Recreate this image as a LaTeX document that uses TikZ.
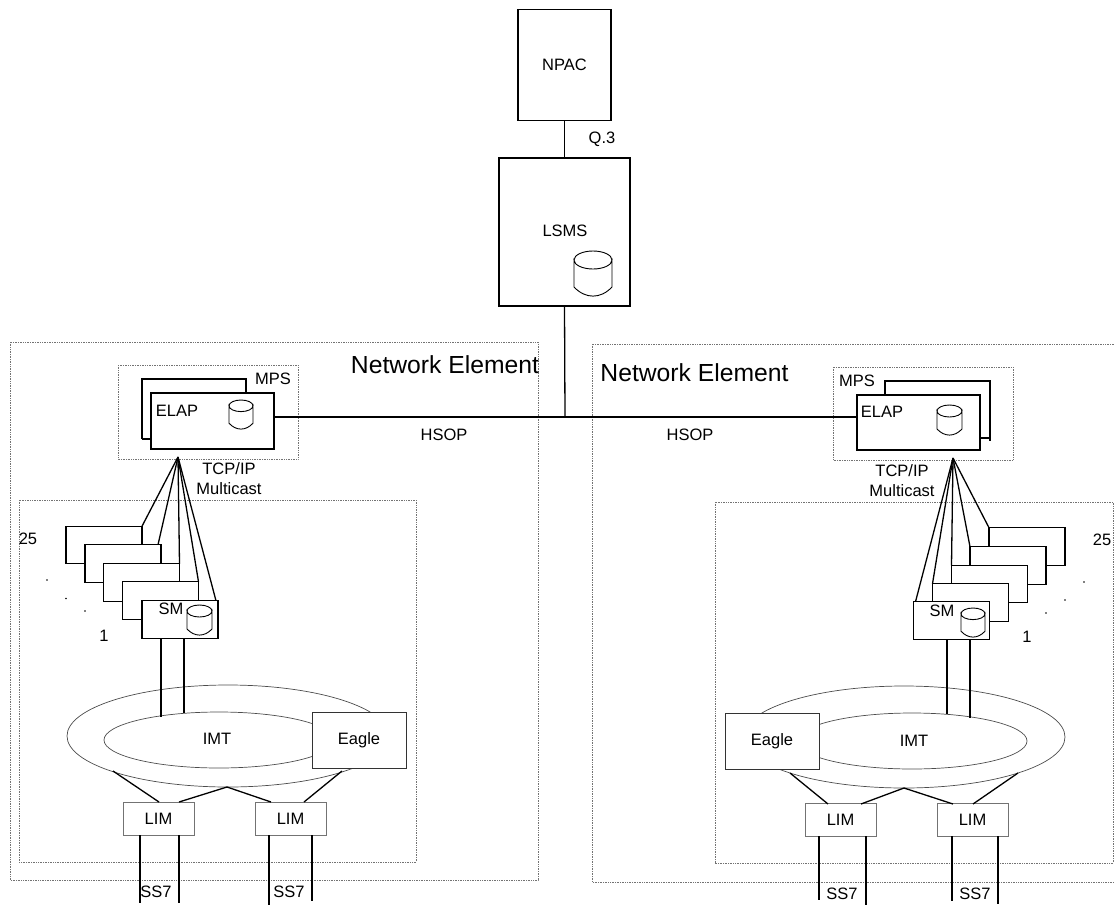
\documentclass[tikz,border=0pt]{standalone}
\usepackage{fontspec}
\setmainfont{Liberation Sans}
\usetikzlibrary{positioning}
\tikzset{
  box/.style={draw,line width=1.3pt,fill=white,inner sep=0pt,outer sep=0pt},
  limbox/.style={draw=black!55,line width=.9pt,fill=white,inner sep=0pt,outer sep=0pt,minimum width=71pt,minimum height=33pt},
  smbox/.style={box,minimum width=76pt,minimum height=37.5pt},
  eaglebox/.style={draw=black!80,line width=.9pt,fill=white,inner sep=0pt,outer sep=0pt,minimum width=94pt,minimum height=56pt},
  dotbox/.style={black!55,densely dotted,line width=.7pt},
  ring/.style={draw=black!70,line width=.7pt},
  wire/.style={line width=1.3pt},
  lbl/.style={inner sep=0pt,font=\fontsize{16.5}{18}\selectfont},
  bigl/.style={inner sep=0pt,font=\fontsize{24.7}{28}\selectfont}
}
% database can: left, top, width, height
\newcommand{\dbcan}[4]{%
  \draw[line width=.9pt,fill=white] (#1,#2+.2*#4) arc[start angle=180,end angle=0,x radius=.5*#3,y radius=.2*#4]
    -- (#1+#3,#2+.8*#4) .. controls (#1+.7*#3,#2+1.07*#4) and (#1+.3*#3,#2+1.07*#4) .. (#1,#2+.8*#4) -- cycle;
  \draw[line width=.9pt] (#1,#2+.2*#4) arc[start angle=180,end angle=360,x radius=.5*#3,y radius=.2*#4];}
\begin{document}
\begin{tikzpicture}[x=1pt,y=-1pt]
\useasboundingbox (0,0) rectangle (1114,905);
% dotted frames
\draw[dotbox] (10,342) rectangle (538,880);
\draw[dotbox] (19,500) rectangle (416,862);
\draw[dotbox] (118,365) rectangle (298,459);
\draw[dotbox] (1114,344) -- (592,344) -- (592,882) -- (1114,882);
\draw[dotbox] (715,502) rectangle (1113,863);
\draw[dotbox] (833,367) rectangle (1013,460);
% top of the tree
\node[box,lbl,minimum width=93pt,minimum height=111.5pt] (npac) at (564.5,65) {NPAC};
\node[box,minimum width=131pt,minimum height=148pt] (lsms) at (564.5,232) {};
\node[lbl] (lsmst) at (565,231) {LSMS};
\node[lbl] (q3) at (602,139) {Q.3};
\dbcan{574}{251}{38}{45}
\draw[wire] (npac.south)--(lsms.north);
% left element
\node[bigl] (neleft) at (445,365) {Network Element};
\node[lbl] (mpsleft) at (273,379) {MPS};
\coordinate (stubl) at (142,439);
\coordinate (elbackl) at (246,393);
\draw[wire] (stubl)--(142,379)--(246,379)--(elbackl);
\draw[wire] (stubl)--(151,439);
\node[box,minimum width=123pt,minimum height=56pt] (elapl) at (212.5,421) {};
\node[lbl] (elaptl) at (177,411) {ELAP};
\dbcan{229}{400}{24}{29}
\coordinate (apexl) at (178,457);
\node[lbl] (tcpl) at (229,469) {TCP/IP};
\node[lbl] (mcl) at (229,489) {Multicast};
\node[lbl] (n25l) at (28,539) {25};
\node[lbl] (n1l) at (104,636) {1};
\foreach \i/\x/\y in {5/104/545,4/123/563.5,3/141.5/582.5,2/160.5/600.5,1/180/619.5}
  \node[smbox] (sl\i) at (\x,\y) {};
\node[lbl] (sml) at (171,609) {SM};
\dbcan{187}{605}{25}{30}
\draw[wire] (apexl)--(sl5.north east);
\draw[wire] (apexl)--([xshift=-3pt]sl4.north east);
\draw[wire] (apexl)--(sl3.north east);
\draw[wire] (apexl)--(sl2.north east);
\draw[wire] (apexl)--([xshift=-2pt]sl1.north east);
\fill (47,580) circle (.8pt);\fill (66,598.5) circle (.8pt);\fill (85,611) circle (.8pt);
\draw[ring] (228,736) ellipse (161pt and 51pt);
\draw[ring] (219,740) ellipse (115pt and 28pt);
\node[lbl] (imtl) at (217,739) {IMT};
\node[eaglebox,lbl] (eaglel) at (359,740) {Eagle};
\coordinate (ml1) at (161,717);
\coordinate (ml2) at (184,713);
\draw[wire] (161,638)--(ml1);
\draw[wire] (184,638)--(ml2);
\node[limbox,lbl] (liml1) at (158.5,818.5) {LIM};
\node[limbox,lbl] (liml2) at (290.5,818.5) {LIM};
\coordinate (botl) at (227,787);
\draw[wire] (113,771)--(159,802);
\draw[wire] (botl)--(179,802);
\draw[wire] (botl)--(271,802);
\draw[wire] (342,771)--(304,802);
\draw[wire] (140,835)--(140,903);
\draw[wire] (179,835)--(179,903);
\draw[wire] (269,835)--(269,905);
\draw[wire] (312,835)--(312,901);
\node[lbl] (ss7l1) at (156,892) {SS7};
\node[lbl] (ss7l2) at (289,892) {SS7};
% right element
\node[bigl] (neright) at (694.5,373) {Network Element};
\node[lbl] (mpsright) at (857,381) {MPS};
\coordinate (stubr) at (990,441);
\draw[wire] (885,395)--(885,381)--(990,381)--(stubr);
\draw[wire] (980,438)--(990,438);
\node[box,minimum width=123pt,minimum height=55pt] (elapr) at (918.5,422.5) {};
\node[lbl] (elaptr) at (882,412) {ELAP};
\dbcan{937}{405}{25}{30}
\coordinate (apexr) at (953,458);
\node[lbl] (tcpr) at (902,471) {TCP/IP};
\node[lbl] (mcr) at (902,491) {Multicast};
\node[lbl] (n25r) at (1102,540) {25};
\node[lbl] (n1r) at (1027,637) {1};
\foreach \i/\x/\y in {5/1027/546.5,4/1008/565.5,3/989.5/584,2/970.5/602.5,1/951.5/620.5}
  \node[smbox] (sr\i) at (\x,\y) {};
\node[lbl] (smr) at (942,611) {SM};
\dbcan{961}{608}{24}{29}
\draw[wire] (apexr)--(sr5.north west);
\draw[wire] (apexr)--(sr4.north west);
\draw[wire] (apexr)--(sr3.north west);
\draw[wire] (apexr)--(sr2.north west);
\draw[wire] (apexr)--([xshift=2pt]sr1.north west);
\fill (1084,582) circle (.8pt);\fill (1065,600) circle (.8pt);\fill (1046,613) circle (.8pt);
\draw[ring] (904,737) ellipse (161pt and 51pt);
\draw[ring] (912,741) ellipse (115pt and 28pt);
\node[lbl] (imtr) at (914,741) {IMT};
\node[eaglebox,lbl] (eagler) at (772,741) {Eagle};
\coordinate (mr1) at (947,714);
\coordinate (mr2) at (970,718);
\draw[wire] (947,639)--(mr1);
\draw[wire] (970,639)--(mr2);
\node[limbox,lbl] (limr1) at (840.5,820) {LIM};
\node[limbox,lbl] (limr2) at (972.5,820) {LIM};
\coordinate (botr) at (904,788);
\draw[wire] (790,773)--(828,804);
\draw[wire] (botr)--(861,804);
\draw[wire] (botr)--(953,804);
\draw[wire] (1018,773)--(973,804);
\draw[wire] (819,836)--(819,900);
\draw[wire] (866,836)--(866,905);
\draw[wire] (952,836)--(952,901);
\draw[wire] (998,836)--(998,904);
\node[lbl] (ss7r1) at (842,894) {SS7};
\node[lbl] (ss7r2) at (975,894) {SS7};
% HSOP link
\coordinate (hsopj) at (565,417);
\draw[wire] (lsms.south)--(hsopj);
\draw[wire] (elapl.east|-hsopj)--(hsopj)--(elapr.west|-hsopj);
\node[lbl] (hsopl) at (444,435) {HSOP};
\node[lbl] (hsopr) at (690,435) {HSOP};
\end{tikzpicture}
\end{document}
